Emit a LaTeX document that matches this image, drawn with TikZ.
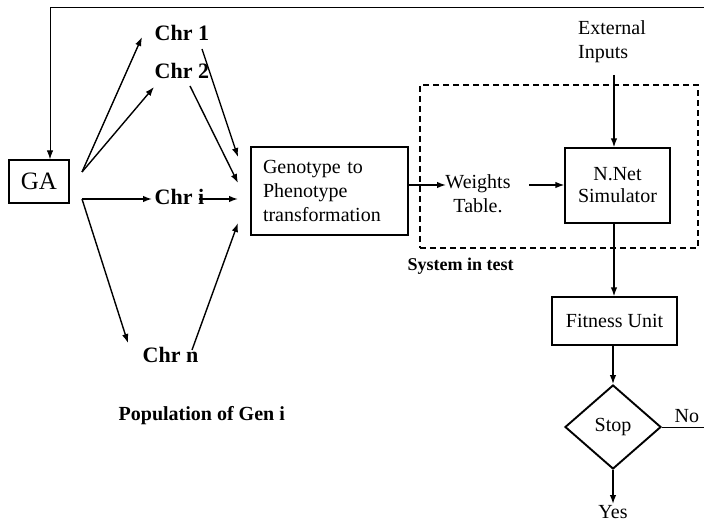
\documentclass[tikz,border=0pt]{standalone}
\usepackage{fontspec}
\setmainfont{Liberation Serif}
\usetikzlibrary{arrows.meta,shapes.geometric}
\begin{document}
\begin{tikzpicture}[x=1pt,y=-1pt,
  line width=1.4pt,
  arr/.style={-{Latex[length=9pt,width=6.5pt]}},
  boxn/.style={draw,line width=1.3pt,inner sep=0pt,font=\fontsize{20}{22}\selectfont},
  chr/.style={font=\fontsize{22}{24}\selectfont\bfseries,inner sep=0pt,anchor=base west},
  txt/.style={font=\fontsize{20}{24}\selectfont,inner sep=0pt}]
\useasboundingbox (0,0) rectangle (704,521);
% boxes
\node[boxn,minimum width=60,minimum height=43,font=\fontsize{25}{27}\selectfont] (ga) at (39,181.5) {GA};
\node[boxn,minimum width=157,minimum height=88,text width=133,align=left,font=\fontsize{20}{24}\selectfont] (geno) at (329.5,191) {Genotype to\\Phenotype\\transformation};
\node[boxn,minimum width=105,minimum height=75,align=center] (nnet) at (617.5,185.5) {N.Net\\Simulator};
\node[boxn,minimum width=125,minimum height=48] (fit) at (614.5,321) {Fitness Unit};
\node[draw,diamond,line width=1.9pt,minimum width=96,minimum height=84,inner sep=0pt,font=\fontsize{20}{22}\selectfont] (stop) at (613,427) {Stop};
% dashed system box
\node[draw,dash pattern=on 6pt off 4pt,line width=1.1pt,minimum width=278,minimum height=163,inner sep=0pt] (sys) at (559,166.5) {};
% texts
\node[chr] (c1) at (154,41) {Chr 1};
\node[chr] (c2) at (154,79) {Chr 2};
\node[chr] (ci) at (154,205) {Chr i};
\node[chr] (cn) at (142,362) {Chr n};
\node[font=\fontsize{20}{22}\selectfont\bfseries,inner sep=0pt,anchor=base west] (pop) at (118,420) {Population of Gen i};
\node[font=\fontsize{18}{20}\selectfont\bfseries,inner sep=0pt,anchor=base west] (sit) at (407,271) {System in test};
\node[txt,align=center,inner sep=2pt] (wt) at (478,194) {Weights\\Table.};
\node[txt,align=left] (ext) at (612,42) {External\\Inputs};
\node[txt,anchor=base west] (no) at (674,422) {No};
\node[txt,anchor=base] (yes) at (613,518) {Yes};
% coordinates
\coordinate (ga1) at (82,172);
\coordinate (ga2) at (82,199);
\coordinate (c1tip) at (142,37);
\coordinate (c2tip) at (154,87);
\coordinate (citip) at (152,199);
\coordinate (cntip) at (128,343);
\coordinate (c1out) at (202,49);
\coordinate (c2out) at (190,86);
\coordinate (ciout) at (199,199);
\coordinate (cnout) at (192,350);
\coordinate (g1) at (238,157);
\coordinate (g2) at (238,183);
\coordinate (g3) at (238,199);
\coordinate (g4) at (238,223);
\coordinate (wout) at (529,185);
\coordinate (extb) at (614,75);
\coordinate (yest) at (613,504);
\coordinate (loopr) at (708,427);
\coordinate (loopt) at (708,8);
\coordinate (loopl) at (50,8);
% GA to chromosomes
\draw[arr] (ga1) -- (c1tip);
\draw[arr] (ga1) -- (c2tip);
\draw[arr] (ga2) -- (citip);
\draw[arr] (ga2) -- (cntip);
% chromosomes to genotype
\draw[arr] (c1out) -- (g1);
\draw[arr] (c2out) -- (g2);
\draw[arr] (ciout) -- (g3);
\draw[arr] (cnout) -- (g4);
% pipeline
\draw[arr] (geno.east |- 0,185) -- (446,185);
\draw[arr] (wout) -- (nnet.west |- wout);
\draw[arr] (extb) -- (nnet.north -| extb);
\draw[arr] (nnet.south -| 614,0) -- (fit.north -| 614,0);
\draw[arr] (fit.south -| stop.north) -- (stop.north);
\draw[arr] (stop.south) -- (yest);
% loop back
\draw[line width=1pt] (stop.east) -- (loopr) -- (loopt) -- (loopl);
\draw[arr,line width=1pt] (loopl) -- (loopl |- ga.north);
\end{tikzpicture}
\end{document}
